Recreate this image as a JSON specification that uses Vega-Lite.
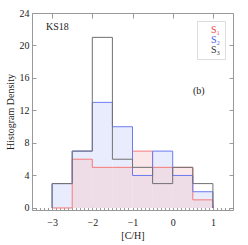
{
  "$schema": "https://vega.github.io/schema/vega-lite/v6.json",
  "width": 201,
  "height": 197,
  "autosize": "none",
  "padding": {"left": 32, "top": 13, "right": 15, "bottom": 35},
  "background": "white",
  "config": {
    "font": "Liberation Serif",
    "view": {"stroke": null},
    "axis": {"labelFont": "Liberation Serif", "titleFont": "Liberation Serif", "labelFontSize": 10, "titleFontSize": 10, "titleFontWeight": "normal", "labelColor": "#222", "titleColor": "#222", "domainColor": "#999", "tickColor": "#999", "grid": false}
  },
  "data": {
    "values": [
      {"series": "S1", "x0": -3.0, "x1": -2.5, "v": 0},
      {"series": "S1", "x0": -2.5, "x1": -2.0, "v": 6},
      {"series": "S1", "x0": -2.0, "x1": -1.5, "v": 5},
      {"series": "S1", "x0": -1.5, "x1": -1.0, "v": 5},
      {"series": "S1", "x0": -1.0, "x1": -0.5, "v": 7},
      {"series": "S1", "x0": -0.5, "x1": 0.0, "v": 5},
      {"series": "S1", "x0": 0.0, "x1": 0.5, "v": 5},
      {"series": "S1", "x0": 0.5, "x1": 1.0, "v": 1},
      {"series": "S2", "x0": -3.0, "x1": -2.5, "v": 3},
      {"series": "S2", "x0": -2.5, "x1": -2.0, "v": 7},
      {"series": "S2", "x0": -2.0, "x1": -1.5, "v": 13},
      {"series": "S2", "x0": -1.5, "x1": -1.0, "v": 10},
      {"series": "S2", "x0": -1.0, "x1": -0.5, "v": 4},
      {"series": "S2", "x0": -0.5, "x1": 0.0, "v": 7},
      {"series": "S2", "x0": 0.0, "x1": 0.5, "v": 4},
      {"series": "S2", "x0": 0.5, "x1": 1.0, "v": 2},
      {"series": "S3", "x0": -3.0, "x1": -2.5, "v": 3},
      {"series": "S3", "x0": -2.5, "x1": -2.0, "v": 7},
      {"series": "S3", "x0": -2.0, "x1": -1.5, "v": 21},
      {"series": "S3", "x0": -1.5, "x1": -1.0, "v": 6},
      {"series": "S3", "x0": -1.0, "x1": -0.5, "v": 5},
      {"series": "S3", "x0": -0.5, "x1": 0.0, "v": 3},
      {"series": "S3", "x0": 0.0, "x1": 0.5, "v": 5},
      {"series": "S3", "x0": 0.5, "x1": 1.0, "v": 3}
    ]
  },
  "layer": [
    {
      "transform": [{"filter": "datum.series === 'S2'"}],
      "mark": {"type": "rect", "fill": "#e9ecfc", "stroke": null},
      "encoding": {
        "x": {"field": "x0", "type": "quantitative", "scale": {"domain": [-3.5, 1.5], "nice": false, "zero": false},
          "axis": {"orient": "bottom", "title": "[C/H]", "titlePadding": 1,
            "values": [-3.5,-3.4,-3.3,-3.2,-3.1,-3.0,-2.9,-2.8,-2.7,-2.6,-2.5,-2.4,-2.3,-2.2,-2.1,-2.0,-1.9,-1.8,-1.7,-1.6,-1.5,-1.4,-1.3,-1.2,-1.1,-1.0,-0.9,-0.8,-0.7,-0.6,-0.5,-0.4,-0.3,-0.2,-0.1,0,0.1,0.2,0.3,0.4,0.5,0.6,0.7,0.8,0.9,1.0,1.1,1.2,1.3,1.4,1.5],
            "labelExpr": "abs(datum.value - round(datum.value)) < 0.001 ? format(round(datum.value), 'd') : ''",
            "labelOverlap": false, "labelFlush": false, "labelPadding": 12,
            "tickSize": {"condition": {"test": "abs(datum.value - round(datum.value)) < 0.001", "value": -5}, "value": -2.5}}},
        "x2": {"field": "x1"},
        "y": {"field": "v", "type": "quantitative", "scale": {"domain": [-0.25, 24], "nice": false, "zero": false},
          "axis": {"orient": "left", "title": "Histogram Density", "values": [0,4,8,12,16,20,24], "tickSize": -4, "labelPadding": 7, "titlePadding": 4}},
        "y2": {"datum": 0}
      }
    },
    {
      "transform": [{"filter": "datum.series === 'S1'"}],
      "mark": {"type": "rect", "fill": "#f4c9cf", "opacity": 0.45, "stroke": null},
      "encoding": {
        "x": {"field": "x0", "type": "quantitative", "axis": null},
        "x2": {"field": "x1"},
        "y": {"field": "v", "type": "quantitative", "axis": null},
        "y2": {"datum": 0}
      }
    },
    {
      "mark": {"type": "rule", "strokeWidth": 1},
      "encoding": {
        "x": {"field": "x0", "type": "quantitative", "axis": null},
        "x2": {"field": "x1"},
        "y": {"field": "v", "type": "quantitative", "axis": null},
        "color": {"field": "series", "type": "nominal",
          "scale": {"domain": ["S1", "S2", "S3"], "range": ["#f47a7a", "#6c7cf0", "#707070"]},
          "legend": {"orient": "top-right", "offset": 8, "title": null,
            "labelExpr": "datum.label === 'S1' ? 'S₁' : datum.label === 'S2' ? 'S₂' : 'S₃'",
            "labelFont": "Liberation Serif", "labelFontSize": 10, "symbolSize": 0, "symbolOpacity": 0, "symbolStrokeWidth": 0,
            "labelOffset": 0, "rowPadding": 0, "padding": 4, "strokeColor": "#dddddd", "fillColor": "white",
            "encode": {"labels": {"update": {"fill": {"signal": "datum.value === 'S1' ? '#f04545' : datum.value === 'S2' ? '#4a5cf0' : '#333333'"}}}}}}
      }
    },
    {
      "transform": [
        {"window": [{"op": "lag", "field": "v", "as": "pv"}], "groupby": ["series"], "sort": [{"field": "x0"}]},
        {"calculate": "datum.pv == null ? 0 : datum.pv", "as": "pv0"}
      ],
      "mark": {"type": "rule", "strokeWidth": 1},
      "encoding": {
        "x": {"field": "x0", "type": "quantitative", "axis": null},
        "y": {"field": "pv0", "type": "quantitative", "axis": null},
        "y2": {"field": "v"},
        "color": {"field": "series", "type": "nominal", "legend": null}
      }
    },
    {
      "transform": [{"filter": "datum.x1 === 1"}],
      "mark": {"type": "rule", "strokeWidth": 1},
      "encoding": {
        "x": {"field": "x1", "type": "quantitative", "axis": null},
        "y": {"field": "v", "type": "quantitative", "axis": null},
        "y2": {"datum": 0},
        "color": {"field": "series", "type": "nominal", "legend": null}
      }
    },
    {
      "data": {"values": [{"label": "KS18"}]},
      "mark": {"type": "text", "align": "left", "baseline": "middle", "fontSize": 10, "font": "Liberation Serif", "fill": "#222"},
      "encoding": {
        "text": {"field": "label"},
        "x": {"datum": -3.15, "type": "quantitative",
          "axis": {"orient": "top", "title": null, "labels": false, "values": [-3, -2, -1, 0, 1], "tickSize": -5}},
        "y": {"datum": 22.3, "type": "quantitative",
          "axis": {"orient": "right", "title": null, "labels": false, "values": [0,4,8,12,16,20,24], "tickSize": -4}}
      }
    },
    {
      "data": {"values": [{"label": "(b)"}]},
      "mark": {"type": "text", "align": "center", "baseline": "middle", "fontSize": 10, "font": "Liberation Serif", "fill": "#222"},
      "encoding": {
        "text": {"field": "label"},
        "x": {"datum": 0.65, "type": "quantitative", "axis": null},
        "y": {"datum": 14.4, "type": "quantitative", "axis": null}
      }
    }
  ],
  "resolve": {"axis": {"x": "independent", "y": "independent"}}
}
